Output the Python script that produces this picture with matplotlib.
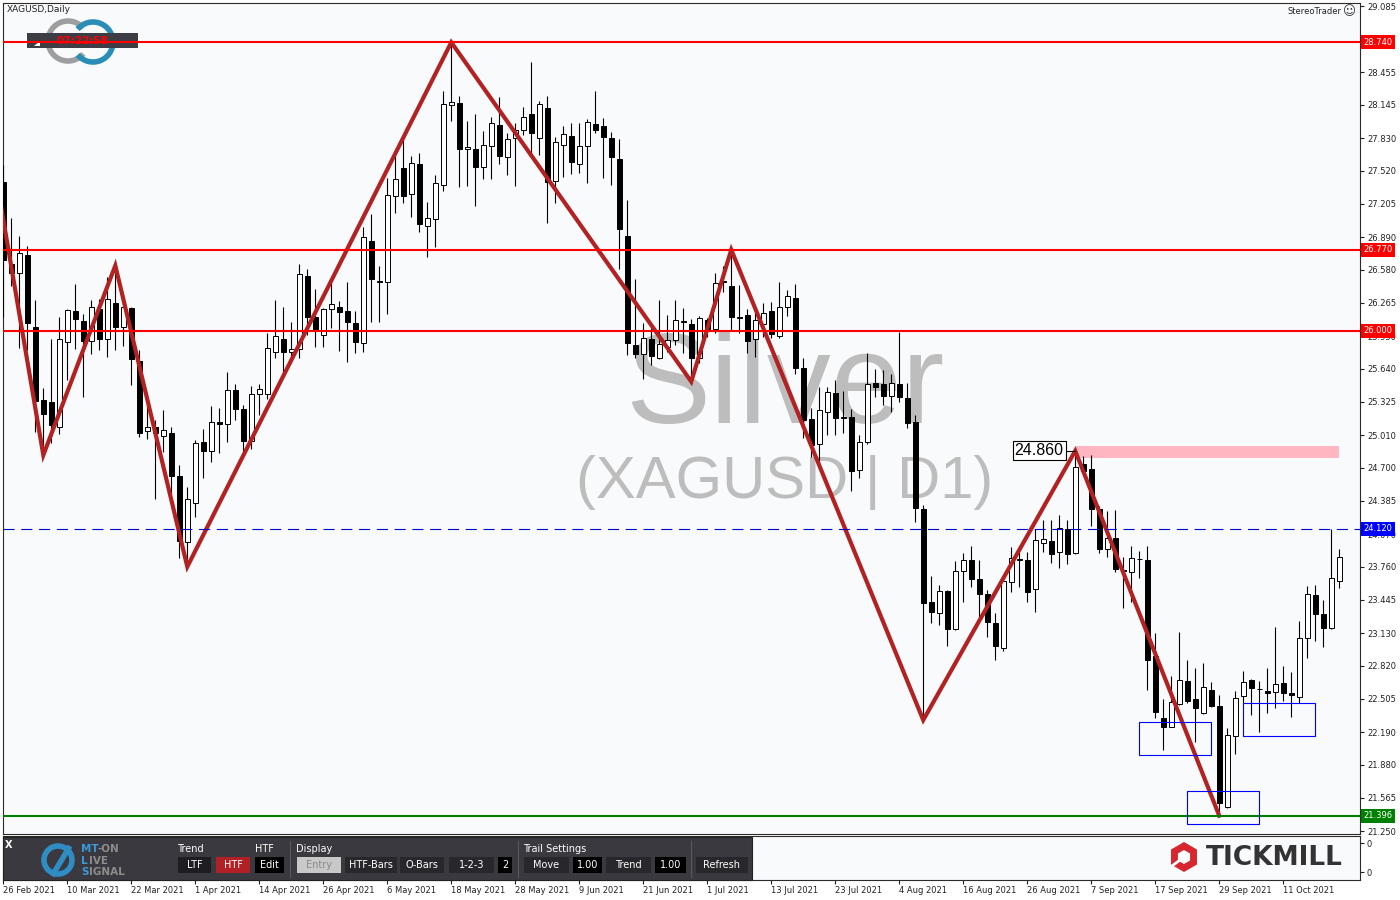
import numpy as np
import matplotlib
matplotlib.use('Agg')
import matplotlib.pyplot as plt
from matplotlib.patches import Rectangle, Arc, RegularPolygon, Polygon
from matplotlib.transforms import blended_transform_factory

# XAGUSD daily bars, 26 Feb 2021 .. 20 Oct 2021
opens = [27.418, 26.633, 26.548, 26.719, 26.040, 25.344, 25.322, 25.085, 25.892, 26.187,
         26.092, 25.907, 26.206, 25.926, 26.263, 26.040, 26.218, 25.714, 25.052, 25.085,
         25.005, 25.028, 24.622, 23.998, 24.363, 24.942, 24.862, 25.135, 25.113, 25.440,
         25.260, 24.950, 25.400, 25.400, 25.797, 25.921, 25.803, 25.826, 26.525, 26.135,
         25.962, 26.206, 26.225, 26.190, 26.073, 25.883, 26.855, 26.475, 26.462, 27.282,
         27.545, 27.298, 27.583, 27.000, 27.061, 27.386, 28.144, 28.166, 27.726, 27.728,
         27.560, 27.760, 27.956, 27.655, 27.830, 27.906, 28.058, 27.830, 28.115, 27.427,
         27.764, 27.849, 27.583, 27.754, 27.963, 27.944, 27.833, 27.631, 26.899, 25.866,
         25.778, 25.921, 25.740, 25.850, 25.914, 26.094, 26.063, 25.746, 26.104, 26.016,
         26.475, 26.427, 26.133, 26.152, 25.921, 26.063, 26.190, 25.955, 26.225, 26.310,
         25.645, 25.161, 24.923, 25.233, 25.408, 25.182, 25.180, 24.679, 24.942, 25.503,
         25.496, 25.385, 25.493, 25.360, 25.132, 24.306, 23.422, 23.318, 23.530, 23.166,
         23.720, 23.824, 23.644, 23.501, 23.228, 22.985, 23.618, 23.834, 23.824, 23.546,
         23.983, 24.004, 23.897, 24.116, 23.888, 24.736, 24.689, 24.306, 23.926, 24.033,
         23.729, 23.713, 23.836, 23.824, 22.912, 22.320, 22.240, 22.453, 22.675, 22.504,
         22.368, 22.589, 22.437, 21.480, 22.152, 22.532, 22.684, 22.601, 22.579, 22.567,
         22.652, 22.557, 22.525, 23.080, 23.491, 23.311, 23.175, 23.627]
highs = [27.577, 27.073, 26.902, 26.810, 26.294, 25.455, 25.924, 26.130, 26.209, 26.446,
         26.161, 26.294, 26.301, 26.510, 26.620, 26.310, 26.230, 25.819, 25.351, 25.154,
         25.249, 25.085, 24.727, 24.515, 24.964, 25.066, 25.287, 25.271, 25.613, 25.500,
         25.300, 25.480, 25.500, 25.978, 26.294, 26.230, 26.082, 26.633, 26.589, 26.396,
         26.215, 26.462, 26.287, 26.462, 26.190, 26.985, 27.111, 26.617, 27.450, 27.672,
         27.871, 27.662, 27.688, 27.228, 27.482, 28.280, 28.740, 28.232, 27.995, 28.061,
         27.900, 28.030, 28.225, 27.881, 27.973, 28.125, 28.552, 28.184, 28.232, 27.840,
         27.944, 27.976, 27.973, 28.016, 28.280, 28.020, 27.887, 27.821, 27.244, 26.491,
         26.073, 26.025, 26.294, 26.152, 26.294, 26.215, 26.111, 26.142, 26.120, 26.553,
         26.617, 26.770, 26.437, 26.206, 26.183, 26.268, 26.278, 26.468, 26.389, 26.446,
         25.746, 25.265, 25.470, 25.470, 25.534, 25.432, 25.256, 25.012, 25.788, 25.636,
         25.629, 25.588, 25.993, 25.503, 25.202, 24.346, 23.672, 23.587, 23.539, 23.815,
         23.893, 23.957, 23.824, 23.539, 23.318, 23.682, 23.945, 23.903, 23.903, 24.116,
         24.204, 24.204, 24.252, 24.204, 24.860, 24.812, 24.822, 24.337, 24.285, 24.299,
         23.855, 23.957, 23.909, 23.957, 23.133, 22.501, 22.722, 23.137, 22.874, 22.795,
         22.843, 22.662, 22.541, 22.225, 22.582, 22.770, 22.694, 22.677, 22.795, 23.185,
         22.817, 22.757, 23.244, 23.577, 23.587, 23.444, 24.120, 23.929]
lows = [26.135, 26.427, 25.835, 25.819, 25.043, 24.820, 24.933, 25.021, 25.534, 25.829,
        25.375, 25.781, 25.819, 25.750, 25.819, 25.857, 25.487, 24.995, 24.971, 24.401,
        24.853, 24.442, 23.840, 23.760, 24.235, 24.600, 24.758, 24.843, 24.948, 25.150,
        24.800, 24.880, 25.200, 25.350, 25.740, 25.565, 25.693, 25.740, 25.962, 25.845,
        25.845, 26.031, 25.812, 25.702, 25.788, 25.797, 26.082, 26.088, 26.161, 27.123,
        27.218, 27.085, 26.943, 26.705, 26.800, 27.332, 27.997, 27.365, 27.380, 27.190,
        27.446, 27.446, 27.586, 27.484, 27.380, 27.864, 27.674, 27.674, 27.023, 27.218,
        27.465, 27.494, 27.503, 27.408, 27.883, 27.456, 27.387, 26.586, 25.772, 25.740,
        25.541, 25.677, 25.730, 25.803, 25.866, 25.788, 25.518, 25.693, 25.945, 25.978,
        26.373, 26.009, 25.978, 25.793, 25.755, 25.945, 25.936, 25.930, 26.142, 25.591,
        24.986, 24.805, 24.743, 25.012, 25.012, 25.028, 24.483, 24.600, 24.930, 25.375,
        25.297, 25.233, 25.328, 25.075, 24.188, 22.304, 23.223, 23.206, 23.007, 23.159,
        23.428, 23.565, 23.285, 23.090, 22.874, 22.962, 23.523, 23.565, 23.428, 23.333,
        23.903, 23.793, 23.745, 23.783, 23.878, 24.632, 24.147, 23.893, 23.857, 23.713,
        23.371, 23.428, 23.656, 22.589, 22.320, 22.019, 22.235, 22.447, 22.463, 22.098,
        22.361, 22.430, 21.396, 21.465, 21.978, 22.463, 22.352, 22.193, 22.373, 22.421,
        22.487, 22.336, 22.463, 22.890, 23.057, 23.001, 23.170, 23.561]
closes = [26.674, 26.553, 26.738, 26.073, 25.337, 25.208, 25.107, 25.921, 26.196, 26.111,
          25.907, 26.225, 25.926, 26.301, 26.040, 26.225, 25.731, 25.033, 25.085, 25.033,
          25.056, 24.625, 24.007, 24.401, 24.933, 24.862, 25.132, 25.116, 25.439, 25.260,
          24.950, 25.400, 25.450, 25.835, 25.952, 25.803, 25.826, 26.538, 26.135, 26.009,
          26.206, 26.253, 26.177, 26.088, 25.892, 26.890, 26.491, 26.462, 27.292, 27.441,
          27.285, 27.593, 27.013, 27.070, 27.403, 28.153, 28.172, 27.726, 27.745, 27.560,
          27.764, 27.973, 27.665, 27.824, 27.909, 28.030, 27.883, 28.153, 27.418, 27.792,
          27.868, 27.602, 27.754, 27.982, 27.906, 27.840, 27.650, 26.966, 25.883, 25.778,
          25.930, 25.762, 25.873, 25.914, 26.104, 26.082, 25.746, 26.120, 26.016, 26.453,
          26.462, 26.135, 26.120, 25.907, 26.104, 26.173, 25.968, 26.230, 26.332, 25.645,
          25.154, 24.917, 25.246, 25.417, 25.170, 25.173, 24.673, 24.942, 25.493, 25.470,
          25.385, 25.503, 25.370, 25.128, 24.315, 23.419, 23.327, 23.530, 23.166, 23.720,
          23.824, 23.641, 23.498, 23.232, 23.010, 23.625, 23.846, 23.828, 23.523, 24.014,
          24.021, 23.878, 24.125, 23.881, 24.705, 24.673, 24.306, 23.926, 24.030, 23.734,
          23.722, 23.840, 23.830, 22.874, 22.383, 22.240, 22.472, 22.684, 22.487, 22.415,
          22.615, 22.440, 21.513, 22.159, 22.510, 22.662, 22.605, 22.596, 22.563, 22.643,
          22.557, 22.541, 23.080, 23.498, 23.308, 23.175, 23.650, 23.850]

date_labels = ['26 Feb 2021', '10 Mar 2021', '22 Mar 2021', '1 Apr 2021', '14 Apr 2021',
               '26 Apr 2021', '6 May 2021', '18 May 2021', '28 May 2021', '9 Jun 2021',
               '21 Jun 2021', '1 Jul 2021', '13 Jul 2021', '23 Jul 2021', '4 Aug 2021',
               '16 Aug 2021', '26 Aug 2021', '7 Sep 2021', '17 Sep 2021', '29 Sep 2021',
               '11 Oct 2021']
date_idx = list(range(0, 161, 8))

price_ticks = [29.085, 28.770, 28.455, 28.145, 27.830, 27.520, 27.205, 26.890, 26.580,
               26.265, 25.950, 25.640, 25.325, 25.010, 24.700, 24.385, 24.070, 23.760,
               23.445, 23.130, 22.820, 22.505, 22.190, 21.880, 21.565, 21.250]

# zigzag pivots (bar index, price); first one lies just left of the view
zz_idx = [-2, 5, 14, 23, 56, 86, 91, 115, 134, 152]
zz_px = [27.95, 24.820, 26.620, 23.760, 28.740, 25.518, 26.770, 22.304, 24.860, 21.396]

red_levels = [28.740, 26.770, 26.000]
green_level = 21.396
blue_level = 24.120
pink_zone = (134, 167, 24.797, 24.908)
blue_boxes = [(142, 151, 21.969, 22.282), (148, 157, 21.314, 21.627), (155, 164, 22.150, 22.463)]

plt.rcParams['font.family'] = ['DejaVu Sans']

fig = plt.figure(figsize=(14, 9), dpi=100)
fig.patch.set_facecolor('white')

# overlay in pixel units for the decorations
ov = fig.add_axes([0, 0, 1, 1], zorder=10)
ov.set_xlim(0, 1400)
ov.set_ylim(900, 0)
ov.axis('off')
px = ov.transData

ax = fig.add_axes([3 / 1400, 1 - 834 / 900, 1357 / 1400, 831 / 900])
ax.set_facecolor('#F8FAFC')
ax.set_xlim(-0.04, 169.6)
ax.set_ylim(21.222, 29.1135)
for s in ax.spines.values():
    s.set_color('#2b2b2b')
    s.set_linewidth(0.8)

# watermark
ax.text(0.5763, 0.494, 'Silver', transform=ax.transAxes, ha='center', va='baseline',
        fontsize=92, family='Liberation Sans', color='#BDBDBD', zorder=1)
ax.text(0.5763, 0.404, '(XAGUSD | D1)', transform=ax.transAxes, ha='center', va='baseline',
        fontsize=43, family='Liberation Sans', color='#BDBDBD', zorder=1)

# candles
o, h, l, c = map(np.array, (opens, highs, lows, closes))
idx = np.arange(len(o))
up = c >= o
ax.vlines(idx, l, h, color='black', lw=0.8, zorder=3)
ax.bar(idx, np.maximum(np.abs(c - o), 0.004), bottom=np.minimum(o, c), width=0.58,
       color=np.where(up, 'white', 'black'), edgecolor='black', linewidth=0.7, zorder=4)

# zone, levels, zigzag
ax.add_patch(Rectangle((pink_zone[0], pink_zone[2]), pink_zone[1] - pink_zone[0],
                       pink_zone[3] - pink_zone[2], fc='#FFB6C1', ec='none', zorder=2))
for lv in red_levels:
    ax.axhline(lv, color='#FF0000', lw=1.5, zorder=6)
ax.axhline(green_level, color='#008000', lw=1.5, zorder=6)
ax.axhline(blue_level, color='#0000CD', lw=0.8, dashes=(10, 6), zorder=6)
ax.plot(zz_idx, zz_px, color='#B22222', lw=3, solid_joinstyle='miter', zorder=5)
for i0, i1, p0, p1 in blue_boxes:
    ax.add_patch(Rectangle((i0, p0), i1 - i0, p1 - p0, fill=False, ec='#0000FF', lw=0.8, zorder=6))

# pivot label
pv = zz_px[8]
ax.plot([zz_idx[8] - 1.15, zz_idx[8]], [pv, pv], color='black', lw=0.8, zorder=6)
ax.text(zz_idx[8] - 1.45, pv, f'{pv:.3f}', ha='right', va='center', fontsize=11.5,
        family='Liberation Sans', zorder=7,
        bbox=dict(boxstyle='square,pad=0.12', fc='white', ec='black', lw=0.8))

# right price scale (28.770 sits under the 28.740 marker, so it shows no text)
ax.yaxis.tick_right()
ax.set_yticks(price_ticks)
ax.set_yticklabels(['' if abs(t - 28.740) < 0.05 else f'{t:.3f}' for t in price_ticks])
ax.tick_params(axis='y', length=3, width=0.8, pad=2, labelsize=6, colors='#222222')
ax.set_xticks([])
bt = blended_transform_factory(ax.transAxes, ax.transData)
for lv, col in [(28.740, '#FF0000'), (26.770, '#FF0000'), (26.000, '#FF0000'),
                (blue_level, '#0000FF'), (green_level, '#008000')]:
    ax.text(1.0026, lv, f'{lv:.3f}', transform=bt, ha='left', va='center', fontsize=6,
            color='white', clip_on=False, zorder=10,
            bbox=dict(boxstyle='square,pad=0.3', fc=col, ec='none'))

# top-left logo with clock
ax.add_patch(Arc((68, 41), 40, 40, theta1=40, theta2=320, color='#9E9E9E', lw=4, transform=px, zorder=2))
ax.add_patch(Arc((93, 42), 40, 40, theta1=-140, theta2=140, color='#2A8DB5', lw=4, transform=px, zorder=2))
ax.add_patch(Rectangle((27, 33), 111, 15, fc='#3E3D45', ec='none', transform=px, zorder=2.2))
ax.add_patch(Polygon([(34, 46), (40, 46), (40, 41)], closed=True, fc='white', ec='none',
                     transform=px, zorder=2.3))
ax.text(82, 41, '07:22:58', transform=px, ha='center', va='center', fontsize=7.5,
        weight='bold', color='#FF0000', zorder=2.4)
ov.text(7, 10, 'XAGUSD,Daily', ha='left', va='center', fontsize=6.5, color='#222222')
ov.text(1342, 12, 'StereoTrader', ha='right', va='center', fontsize=6, color='#222222')
ov.text(1349, 12, '\u263a', ha='center', va='center', fontsize=9, color='#333333')

# indicator sub-window with date scale
ax2 = fig.add_axes([3 / 1400, 1 - 880 / 900, 1357 / 1400, 44 / 900])
ax2.set_facecolor('#F8FAFC')
ax2.set_xlim(ax.get_xlim())
ax2.set_ylim(0, 1)
for s in ax2.spines.values():
    s.set_color('#2b2b2b')
    s.set_linewidth(0.8)
ax2.yaxis.tick_right()
ax2.set_yticks([0.84, 0.18])
ax2.set_yticklabels(['0', '0'])
ax2.set_xticks(date_idx)
ax2.set_xticklabels(date_labels, ha='left')
ax2.tick_params(axis='x', length=3, width=0.8, pad=1.5, labelsize=6, colors='#222222')
ax2.tick_params(axis='y', length=3, width=0.8, pad=2, labelsize=6, colors='#222222')

# toolbar
ov.add_patch(Rectangle((3, 837), 749, 43, fc='#3A393F', ec='#222222', lw=0.8))
ov.text(9, 845, 'X', ha='center', va='center', fontsize=7, weight='bold', color='white')
ov.add_patch(Arc((58, 860), 28, 28, theta1=0, theta2=360, color='#2F8DC4', lw=4))
ov.plot([52, 70], [876, 846], color='#2F8DC4', lw=4, solid_capstyle='butt')
blue_t, gray_t = '#3A9AD9', '#8C8C8C'
ov.text(81, 849, 'MT', fontsize=7.5, weight='bold', color=blue_t, va='center')
ov.text(98, 849, '-ON', fontsize=7.5, weight='bold', color=gray_t, va='center')
ov.text(81, 861, 'L', fontsize=7.5, weight='bold', color=blue_t, va='center')
ov.text(89, 861, 'IVE', fontsize=7.5, weight='bold', color=gray_t, va='center')
ov.text(81, 872, 'S', fontsize=7.5, weight='bold', color=blue_t, va='center')
ov.text(89, 872, 'IGNAL', fontsize=7.5, weight='bold', color=gray_t, va='center')
for x, t in [(177, 'Trend'), (255, 'HTF'), (296, 'Display'), (523, 'Trail Settings')]:
    ov.text(x, 849, t, fontsize=7, color='white', va='center')
for x in [290, 518, 691]:
    ov.plot([x, x], [841, 877], color='#5a5960', lw=0.8)
buttons = [(178, 211, 'LTF', '#1E1E22', 'white'), (216, 250, 'HTF', '#B02024', 'white'),
           (255, 284, 'Edit', '#000000', 'white'), (297, 341, 'Entry', '#C8C8C8', '#8A8A8A'),
           (345, 397, 'HTF-Bars', '#28272C', 'white'), (400, 444, 'O-Bars', '#28272C', 'white'),
           (449, 494, '1-2-3', '#28272C', 'white'), (498, 512, '2', '#000000', 'white'),
           (524, 569, 'Move', '#28272C', 'white'), (573, 602, '1.00', '#000000', 'white'),
           (606, 651, 'Trend', '#28272C', 'white'), (655, 686, '1.00', '#000000', 'white'),
           (696, 748, 'Refresh', '#28272C', 'white')]
for x0, x1, t, fc, tc in buttons:
    ov.add_patch(Rectangle((x0, 857), x1 - x0, 16, fc=fc, ec='none'))
    ov.text((x0 + x1) / 2, 865, t, ha='center', va='center', fontsize=7, color=tc)

# Tickmill logo
ov.add_patch(RegularPolygon((1184, 857), 6, radius=15, orientation=0, fc='#D7262E', ec='none'))
ov.add_patch(RegularPolygon((1184, 857), 6, radius=7, orientation=0, fc='white', ec='none'))
ov.plot([1172, 1180], [866, 860], color='white', lw=2)
ov.text(1206, 858, 'TICKMILL', ha='left', va='center', fontsize=19, weight='bold', color='#333333')

fig.savefig('out.png', dpi=100, facecolor='white')
